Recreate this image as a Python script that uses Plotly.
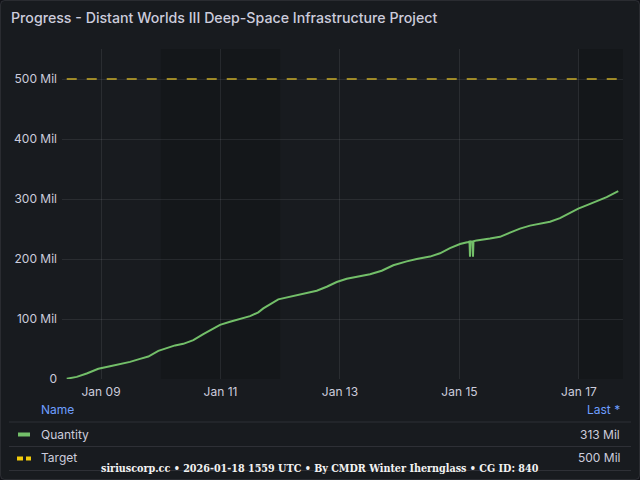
import plotly.graph_objects as go
import pandas as pd

# ---------------- data ----------------
quantity_times = [
    "2026-01-08 10:13", "2026-01-08 14:14", "2026-01-08 18:15", "2026-01-08 22:55",
    "2026-01-09 03:37", "2026-01-09 07:38", "2026-01-09 11:39", "2026-01-09 15:40",
    "2026-01-09 19:00", "2026-01-09 23:01", "2026-01-10 02:23", "2026-01-10 05:44",
    "2026-01-10 09:04", "2026-01-10 13:05", "2026-01-10 17:05", "2026-01-10 20:28",
    "2026-01-10 23:48", "2026-01-11 03:49", "2026-01-11 07:50", "2026-01-11 11:51",
    "2026-01-11 15:11", "2026-01-11 17:12", "2026-01-11 23:13", "2026-01-12 03:55",
    "2026-01-12 09:16", "2026-01-12 14:39", "2026-01-12 18:40", "2026-01-12 22:41",
    "2026-01-13 02:42", "2026-01-13 06:43", "2026-01-13 12:04", "2026-01-13 16:46",
    "2026-01-13 21:25", "2026-01-14 02:48", "2026-01-14 06:49", "2026-01-14 12:10",
    "2026-01-14 16:11", "2026-01-14 20:11", "2026-01-15 00:13", "2026-01-15 03:33",
    "2026-01-15 04:02", "2026-01-15 04:14", "2026-01-15 04:26", "2026-01-15 04:50",
    "2026-01-15 05:14", "2026-01-15 05:26", "2026-01-15 05:38", "2026-01-15 06:02",
    "2026-01-15 06:56", "2026-01-15 12:16",
    "2026-01-15 16:17", "2026-01-15 20:18", "2026-01-16 00:19", "2026-01-16 04:20",
    "2026-01-16 08:21", "2026-01-16 12:22", "2026-01-16 16:23", "2026-01-16 20:24",
    "2026-01-16 23:44", "2026-01-17 03:45", "2026-01-17 07:46", "2026-01-17 11:08",
    "2026-01-17 15:48",
]
quantity_mil = [
    0.5, 3.5, 9.2, 17.0,
    21.4, 24.7, 28.5, 33.6,
    37.5, 47.0, 52.0, 56.0,
    58.6, 64.8, 74.8, 82.6,
    90.3, 95.3, 99.8, 104.8,
    111.0, 117.7, 132.7, 137.0,
    141.0, 147.0, 153.8, 161.6,
    167.0, 170.0, 174.5, 180.5,
    189.5, 196.0, 200.0, 204.0,
    209.5, 218.0, 225.0, 228.4,
    229.0, 204.0, 229.0, 229.3,
    229.5, 204.0, 229.5, 230.0,
    231.0, 234.0,
    237.0, 244.0, 250.6, 255.6,
    259.0, 262.0, 268.0, 276.0,
    284.0, 290.6, 296.8, 303.0,
    313.0,
]
target_mil = 500
y_ticks_mil = [0, 100, 200, 300, 400, 500]

series_names = ["Quantity", "Target"]
title_text = "Progress - Distant Worlds III Deep-Space Infrastructure Project"
footer_text = "siriuscorp.cc • 2026-01-18 1559 UTC • By CMDR Winter Ihernglass • CG ID: 840"

# ---------------- styling ----------------
TEXT = "#ccccdc"
GREEN = "#73bf69"
YELLOW_LINE = "#c9ad2a"
YELLOW_SWATCH = "#f2cc0c"
BLUE = "#6e9fff"
PANEL = "#181b1f"
GRID = "rgba(204,204,220,0.10)"
FONT = "Inter, Roboto, sans-serif"

W, H = 640, 480
L, R, T, B = 62, 623, 49, 379
PW, PH = R - L, B - T


def fx(px):
    return (px - L) / PW


def fy(py):
    return (B - py) / PH


def fmt_mil(v):
    return "0" if v == 0 else f"{v:.0f} Mil"


times = pd.to_datetime(quantity_times)
pad = pd.Timedelta(hours=1.9)
x0, x1 = times[0] - pad, times[-1] + pad

fig = go.Figure()
fig.add_trace(go.Scatter(
    x=times, y=quantity_mil, mode="lines", name=series_names[0],
    line=dict(color=GREEN, width=2), hoverinfo="skip", showlegend=False,
))
fig.add_trace(go.Scatter(
    x=times, y=[target_mil] * len(times), mode="lines", name=series_names[1],
    line=dict(color=YELLOW_LINE, width=1.5, dash="10px,10px"), hoverinfo="skip",
    showlegend=False,
))

shapes = []
# panel border (rounded)
r = 4
bx0, bx1, by0, by1 = 0.5, 639.5, 0.5, 479.5
path = (f"M {fx(bx0 + r)},{fy(by0)} L {fx(bx1 - r)},{fy(by0)} "
        f"Q {fx(bx1)},{fy(by0)} {fx(bx1)},{fy(by0 + r)} L {fx(bx1)},{fy(by1 - r)} "
        f"Q {fx(bx1)},{fy(by1)} {fx(bx1 - r)},{fy(by1)} L {fx(bx0 + r)},{fy(by1)} "
        f"Q {fx(bx0)},{fy(by1)} {fx(bx0)},{fy(by1 - r)} L {fx(bx0)},{fy(by0 + r)} "
        f"Q {fx(bx0)},{fy(by0)} {fx(bx0 + r)},{fy(by0)} Z")
shapes.append(dict(type="path", xref="paper", yref="paper", path=path,
                   fillcolor=PANEL, line=dict(color="rgba(204,204,220,0.12)", width=1),
                   layer="below"))

# weekend shading
day = x0.normalize()
while day < x1:
    if day.weekday() >= 5:
        s = max(day, x0)
        e = min(day + pd.Timedelta(days=1), x1)
        shapes.append(dict(type="rect", xref="x", yref="paper", x0=s, x1=e, y0=0, y1=1,
                           fillcolor="rgba(0,0,0,0.14)", line=dict(width=0), layer="below"))
    day += pd.Timedelta(days=1)

# legend separators
for sy in (422, 446.5, 470.5):
    shapes.append(dict(type="line", xref="paper", yref="paper", x0=fx(9), x1=fx(631),
                       y0=fy(sy), y1=fy(sy), line=dict(color="rgba(204,204,220,0.12)", width=1)))
# legend swatches
shapes.append(dict(type="line", xref="paper", yref="paper", x0=fx(18), x1=fx(30),
                   y0=fy(434.5), y1=fy(434.5), line=dict(color=GREEN, width=4)))
shapes.append(dict(type="line", xref="paper", yref="paper", x0=fx(17), x1=fx(23),
                   y0=fy(458.5), y1=fy(458.5), line=dict(color=YELLOW_SWATCH, width=4)))
shapes.append(dict(type="line", xref="paper", yref="paper", x0=fx(26), x1=fx(31),
                   y0=fy(458.5), y1=fy(458.5), line=dict(color=YELLOW_SWATCH, width=4)))

annotations = []


def ann(text, x, y, anchor="left", color=TEXT, size=12, family=FONT, **kw):
    annotations.append(dict(text=text, x=fx(x), y=fy(y), xref="paper", yref="paper",
                            xanchor=anchor, yanchor="middle", showarrow=False,
                            font=dict(color=color, size=size, family=family, **kw)))


ann(title_text, 9, 17, size=14.2, weight=500)
ann("Name", 39, 409.5, color=BLUE)
ann("Last *", 622, 409.5, anchor="right", color=BLUE)
ann(series_names[0], 39, 434)
ann(fmt_mil(quantity_mil[-1]), 622, 434, anchor="right")
ann(series_names[1], 39, 458)
ann(fmt_mil(target_mil), 622, 458, anchor="right")
ann("<b>" + footer_text + "</b>", 320, 468, anchor="center", color="#f2f2f2", size=10.7,
    family="DejaVu Serif Condensed, DejaVu Serif, serif")

fig.update_layout(
    width=W, height=H,
    margin=dict(l=L, r=W - R, t=T, b=H - B, pad=0),
    paper_bgcolor="#111217", plot_bgcolor="rgba(0,0,0,0)",
    font=dict(family=FONT, color=TEXT, size=12),
    shapes=shapes, annotations=annotations, showlegend=False,
)
fig.update_xaxes(
    type="date", range=[x0, x1], showgrid=True, gridcolor=GRID, gridwidth=1,
    tick0="2026-01-09", dtick=2 * 86400000, tickformat="%b %d",
    ticks="", zeroline=False, showline=False,
    tickfont=dict(size=12, color=TEXT), ticklabelstandoff=4,
)
fig.update_yaxes(
    range=[0, 550], tickvals=y_ticks_mil, ticktext=[fmt_mil(v) for v in y_ticks_mil],
    showgrid=True, gridcolor=GRID, gridwidth=1, zeroline=False, showline=False,
    ticks="", tickfont=dict(size=12, color=TEXT), ticklabelstandoff=4,
)

fig.write_html(
    "out.html",
    config={"displayModeBar": False},
    post_script="document.body.style.margin='0';document.body.style.background='#111217';",
)
